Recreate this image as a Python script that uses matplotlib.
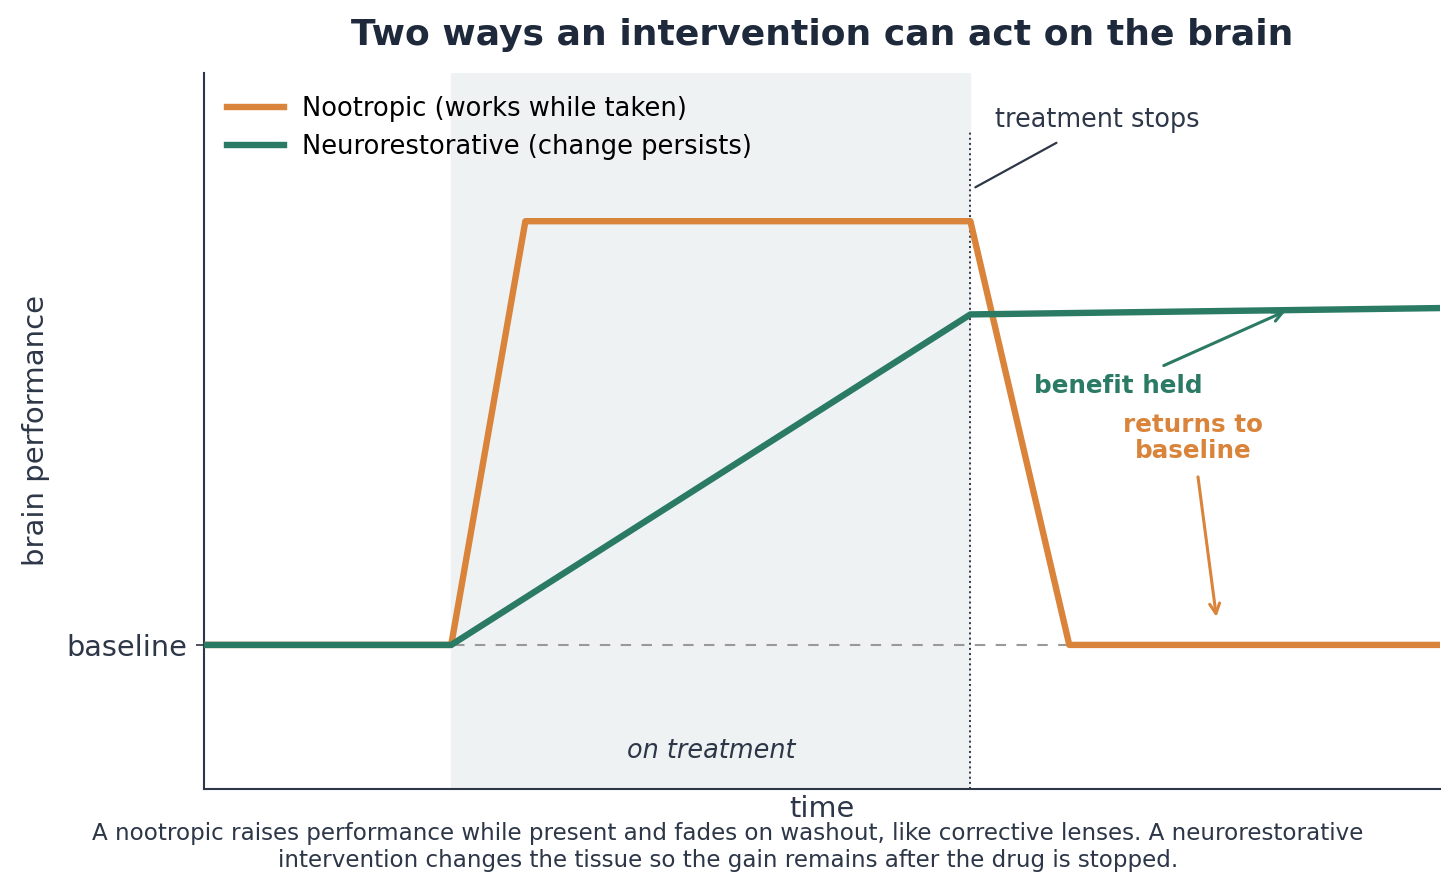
import matplotlib
matplotlib.use("Agg")
import matplotlib.pyplot as plt

# time axis in arbitrary units, performance relative to baseline (0)
nootropic_t = [0, 2.0, 2.6, 6.2, 7.0, 10]
nootropic_y = [0, 0, 1.0, 1.0, 0, 0]
neuro_t = [0, 2.0, 6.2, 10]
neuro_y = [0, 0, 0.78, 0.795]

treat_start = 2.0
treat_stop = 6.2

orange = "#d9843a"
green = "#2a7a64"
ink = "#2d3748"
title_ink = "#1e293b"

fig = plt.figure(figsize=(14.56, 8.89), dpi=100)
ax = fig.add_axes([0.1401, 0.1125, 0.849, 0.8055])

ax.axvspan(treat_start, treat_stop, color="#eff2f3", zorder=0)
ax.axhline(0, color="#999999", lw=1.5, ls=(0, (5, 5)), zorder=1)
ax.vlines(treat_stop, -0.34, 1.212, color=ink, lw=1.4, ls=":", zorder=2)

ax.plot(nootropic_t, nootropic_y, color=orange, lw=4.6, zorder=3,
        label="Nootropic (works while taken)")
ax.plot(neuro_t, neuro_y, color=green, lw=4.6, zorder=4,
        label="Neurorestorative (change persists)")

ax.set_xlim(0, 10)
ax.set_ylim(-0.34, 1.35)
ax.set_xticks([])
ax.set_yticks([0])
ax.set_yticklabels(["baseline"], fontsize=20.7, color=ink)
ax.tick_params(axis="y", length=6, width=1.2, color=ink, pad=6)

for side in ["top", "right"]:
    ax.spines[side].set_visible(False)
for side in ["left", "bottom"]:
    ax.spines[side].set_color(ink)
    ax.spines[side].set_linewidth(1.5)

ax.set_xlabel("time", fontsize=20.7, color=ink, labelpad=4)
ax.set_ylabel("brain performance", fontsize=21, color=ink, labelpad=12)
ax.set_title("Two ways an intervention can act on the brain", fontsize=26,
             fontweight="bold", color=title_ink, pad=20)

ax.legend(loc="upper left", frameon=False, fontsize=18.5, handlelength=2.2,
          handletextpad=0.7, borderaxespad=0.5, labelspacing=0.45)

ax.annotate("treatment stops", xy=(6.24, 1.08), xytext=(6.40, 1.238),
            fontsize=18.4, color=ink, ha="left", va="center",
            arrowprops=dict(arrowstyle="-", color=ink, lw=1.6,
                            shrinkA=10, shrinkB=0))
ax.annotate("benefit held", xy=(8.75, 0.788), xytext=(7.395, 0.611),
            fontsize=17.7, fontweight="bold", color=green, ha="center", va="center",
            arrowprops=dict(arrowstyle="->", color=green, lw=2.2,
                            shrinkA=10, shrinkB=0, mutation_scale=18))
ax.annotate("returns to\nbaseline", xy=(8.19, 0.066), xytext=(8.0, 0.488),
            fontsize=17.7, fontweight="bold", color=orange, ha="center", va="center",
            linespacing=1.1,
            arrowprops=dict(arrowstyle="->", color=orange, lw=2.2,
                            shrinkA=8, shrinkB=0, mutation_scale=18))
ax.text((treat_start + treat_stop) / 2, -0.25, "on treatment", fontsize=18.4,
        style="italic", color=ink, ha="center", va="center")

fig.text(0.5, 0.047,
         "A nootropic raises performance while present and fades on washout, like corrective lenses. A neurorestorative\n"
         "intervention changes the tissue so the gain remains after the drug is stopped.",
         ha="center", va="center", fontsize=16.6, color=ink, linespacing=1.2)

fig.savefig("out.png", dpi=100)
